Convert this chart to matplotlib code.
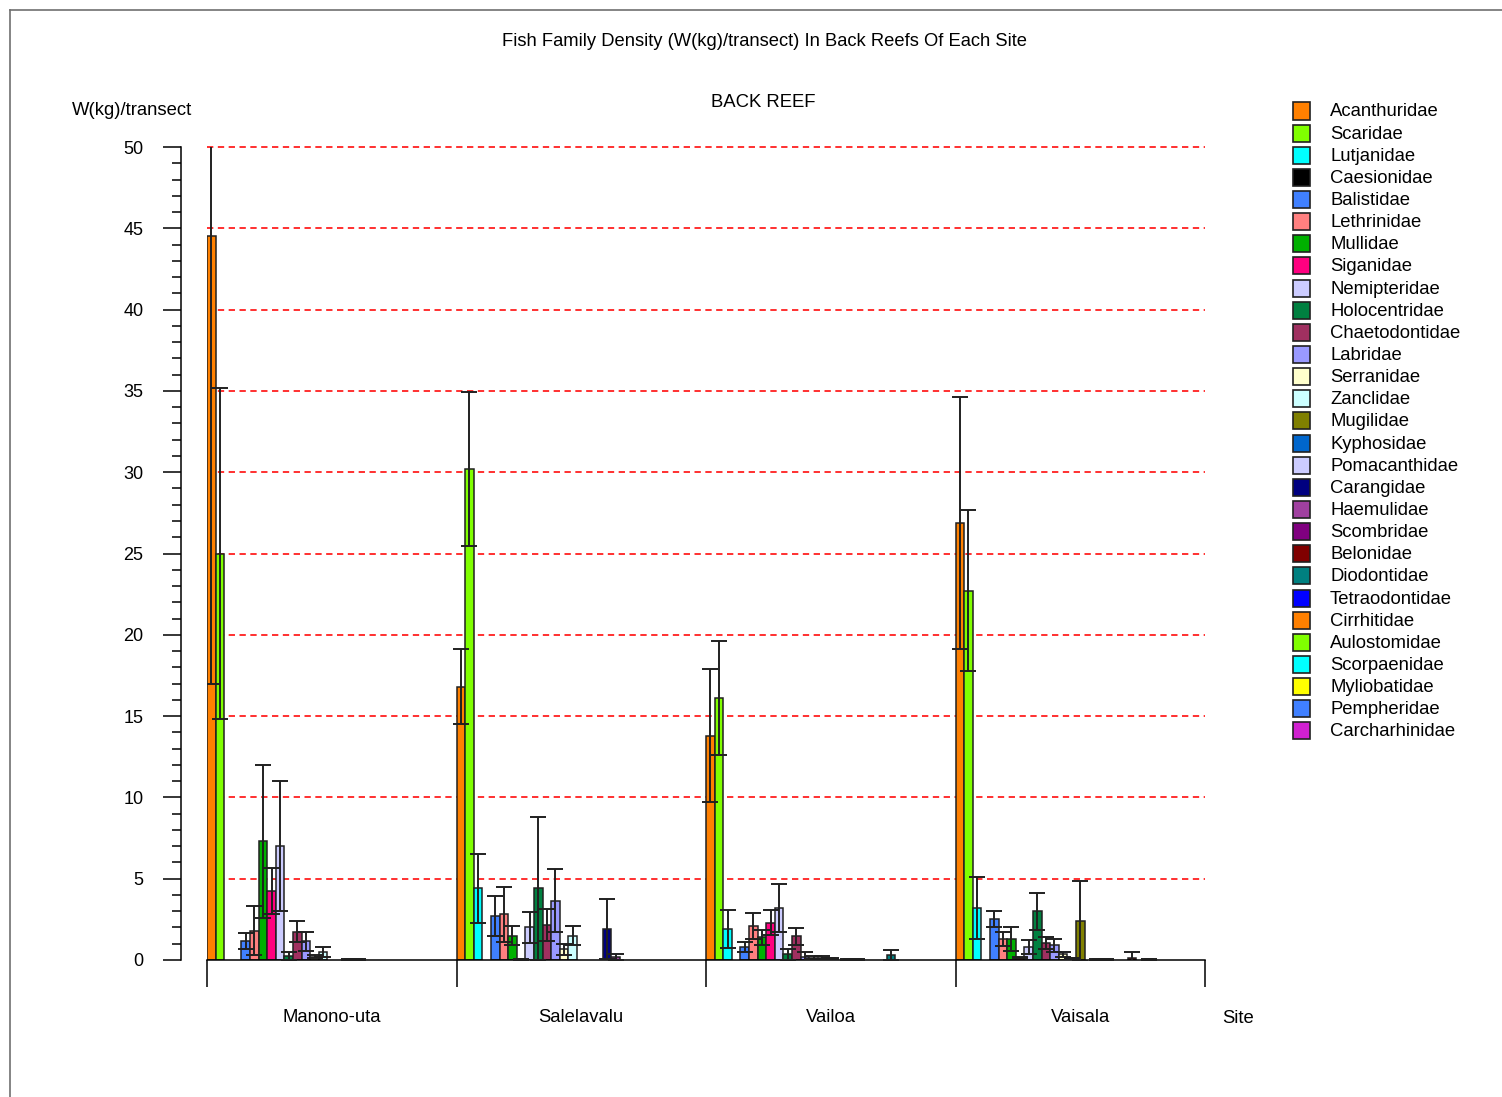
import numpy as np
import matplotlib
matplotlib.use("Agg")
import matplotlib.pyplot as plt
from matplotlib.patches import Rectangle
from matplotlib.lines import Line2D
from matplotlib.ticker import MultipleLocator, FixedLocator

plt.rcParams['font.family'] = ['Liberation Sans', 'DejaVu Sans']

sites = ['Manono-uta', 'Salelavalu', 'Vailoa', 'Vaisala']

families = ['Acanthuridae', 'Scaridae', 'Lutjanidae', 'Caesionidae', 'Balistidae',
            'Lethrinidae', 'Mullidae', 'Siganidae', 'Nemipteridae', 'Holocentridae',
            'Chaetodontidae', 'Labridae', 'Serranidae', 'Zanclidae', 'Mugilidae',
            'Kyphosidae', 'Pomacanthidae', 'Carangidae', 'Haemulidae', 'Scombridae',
            'Belonidae', 'Diodontidae', 'Tetraodontidae', 'Cirrhitidae', 'Aulostomidae',
            'Scorpaenidae', 'Myliobatidae', 'Pempheridae', 'Carcharhinidae']

colors = ['#FF8000', '#80FF00', '#00FFFF', '#000000', '#4080FF',
          '#FF8080', '#00B000', '#FF0080', '#CCCCFF', '#008040',
          '#A03060', '#9999FF', '#FFFFCC', '#CCFFFF', '#808000',
          '#0066CC', '#CCCCFF', '#000080', '#A040A0', '#800080',
          '#800000', '#008080', '#0000FF', '#FF8000', '#80FF00',
          '#00FFFF', '#FFFF00', '#4080FF', '#D020D0']

# mean weight per transect (kg), one list per site, in family order
manono_vals = [44.5, 25.0, 0, 0, 1.15, 1.8, 7.3, 4.25, 7.0, 0.25, 1.75, 1.15, 0.2, 0.5, 0,
               0, 0.05, 0.05, 0, 0, 0, 0, 0, 0, 0, 0, 0, 0, 0]
manono_err = [27.5, 10.2, 0, 0, 0.5, 1.5, 4.7, 1.4, 4.0, 0.25, 0.62, 0.6, 0.1, 0.3, 0,
              0, 0.02, 0.02, 0, 0, 0, 0, 0, 0, 0, 0, 0, 0, 0]

sale_vals = [16.8, 30.2, 4.4, 0, 2.7, 2.8, 1.5, 0.05, 2.0, 4.4, 2.15, 3.65, 0.65, 1.5, 0,
             0, 0, 1.9, 0.2, 0, 0, 0, 0, 0, 0, 0, 0, 0, 0]
sale_err = [2.3, 4.75, 2.1, 0, 1.25, 1.7, 0.6, 0.02, 0.95, 4.4, 1.0, 1.95, 0.35, 0.6, 0,
            0, 0, 1.85, 0.17, 0, 0, 0, 0, 0, 0, 0, 0, 0, 0]

vailoa_vals = [13.8, 16.1, 1.9, 0, 0.8, 2.1, 1.4, 2.3, 3.2, 0.35, 1.45, 0.2, 0.15, 0.15, 0.1,
               0, 0.05, 0.05, 0, 0, 0, 0.3, 0, 0, 0, 0, 0, 0, 0]
vailoa_err = [4.1, 3.5, 1.15, 0, 0.33, 0.82, 0.45, 0.75, 1.45, 0.35, 0.5, 0.3, 0.1, 0.1, 0.05,
              0, 0.02, 0.02, 0, 0, 0, 0.3, 0, 0, 0, 0, 0, 0, 0]

vaisala_vals = [26.9, 22.7, 3.2, 0, 2.5, 1.3, 1.3, 0.15, 0.8, 3.0, 1.05, 0.9, 0.35, 0.1, 2.4,
                0, 0.05, 0.05, 0, 0, 0.15, 0, 0.05, 0, 0, 0, 0, 0, 0]
vaisala_err = [7.75, 4.95, 1.9, 0, 0.5, 0.45, 0.72, 0.05, 0.45, 1.15, 0.35, 0.42, 0.15, 0.05, 2.45,
               0, 0.02, 0.02, 0, 0, 0.35, 0, 0.02, 0, 0, 0, 0, 0, 0]

site_vals = [manono_vals, sale_vals, vailoa_vals, vaisala_vals]
site_errs = [manono_err, sale_err, vailoa_err, vaisala_err]

W, H = 1502, 1097
fig = plt.figure(figsize=(W / 100, H / 100), dpi=100)

# axes box in pixels: x 207..1205, y 147..960
ax = fig.add_axes([207 / W, 1 - 960 / H, 998 / W, 813 / H])

nf = len(families)
bw = 1.0 / nf
for g in range(len(sites)):
    vals = np.array(site_vals[g])
    errs = np.array(site_errs[g])
    xs = g + (np.arange(nf) + 0.5) * bw
    for i in range(nf):
        if vals[i] > 0:
            ax.bar(xs[i], vals[i], width=bw, color=colors[i], edgecolor='#202020',
                   linewidth=1.1, zorder=2)
    m = vals > 0
    ax.errorbar(xs[m], vals[m], yerr=errs[m], fmt='none', ecolor='#202020',
                elinewidth=1.4, capsize=6, capthick=1.4, zorder=3)

ax.set_xlim(0, 4)
ax.set_ylim(0, 50)

# red dashed gridlines at every 5
for yv in range(5, 55, 5):
    ax.axhline(yv, color='#FF2020', lw=1.3, dashes=(3.5, 2.5), zorder=1, clip_on=False)

for s in ['top', 'right']:
    ax.spines[s].set_visible(False)
ax.spines['left'].set_position(('outward', 18.7))
ax.spines['left'].set_linewidth(1.1)
ax.spines['bottom'].set_linewidth(1.1)

ax.yaxis.set_major_locator(MultipleLocator(5))
ax.yaxis.set_minor_locator(MultipleLocator(1))
ax.tick_params(axis='y', which='major', length=13, width=1.1, pad=14, labelsize=13)
ax.tick_params(axis='y', which='minor', length=6.5, width=1.1)

ax.xaxis.set_major_locator(FixedLocator([0, 1, 2, 3, 4]))
ax.xaxis.set_minor_locator(FixedLocator([0.5, 1.5, 2.5, 3.5]))
ax.set_xticklabels([], minor=False)
ax.set_xticklabels(sites, minor=True)
ax.tick_params(axis='x', which='major', length=19.5, width=1.1)
ax.tick_params(axis='x', which='minor', length=0, pad=35.5, labelsize=13.3)

fig.text(764 / W, 1 - 41.5 / H, 'Fish Family Density (W(kg)/transect) In Back Reefs Of Each Site',
         ha='center', va='center', fontsize=13.2)
fig.text(763 / W, 1 - 102.5 / H, 'BACK REEF', ha='center', va='center', fontsize=13.3)
fig.text(72 / W, 1 - 110.5 / H, 'W(kg)/transect', ha='left', va='center', fontsize=13.3)
fig.text(1222 / W, 1 - 1018.5 / H, 'Site', ha='left', va='center', fontsize=13.3)

# legend drawn by hand to match the original layout
for k, (name, c) in enumerate(zip(families, colors)):
    yc = 111 + k * 22.14
    fig.add_artist(Rectangle((1293 / W, 1 - (yc + 8.5) / H), 17 / W, 17 / H,
                             transform=fig.transFigure, facecolor=c,
                             edgecolor='#202020', linewidth=1.2))
    fig.text(1330 / W, 1 - (yc + 1) / H, name, ha='left', va='center', fontsize=13.3)

# outer frame (left and top edges)
fig.add_artist(Line2D([10 / W, 10 / W], [0, 1 - 10 / H], transform=fig.transFigure,
                      color='#707070', lw=1.2))
fig.add_artist(Line2D([10 / W, 1], [1 - 10 / H, 1 - 10 / H], transform=fig.transFigure,
                      color='#707070', lw=1.2))

fig.savefig('out.png', dpi=100)
